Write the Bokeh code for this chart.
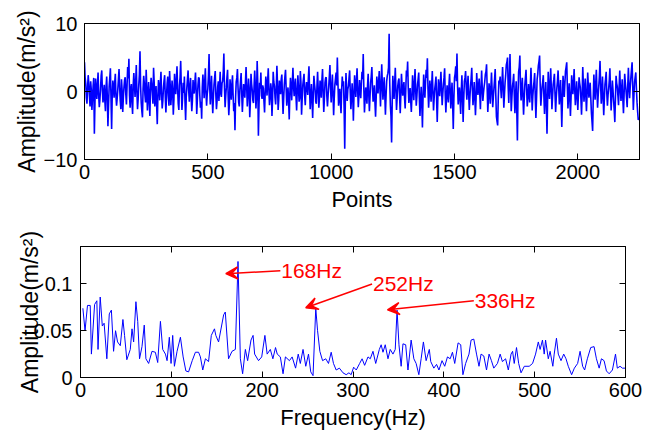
import numpy as np
from bokeh.plotting import figure
from bokeh.models import LinearAxis, FixedTicker, Range1d, Arrow, VeeHead, Label
from bokeh.embed import file_html
from bokeh.resources import INLINE

# ---------------- data ----------------
# time signal, one value every 2.5 points
signal_step = 2.5
signal = [
    4.3, 2.1, 1.2, -0.9, -1.8, 0.6, 2.4, 1.1, -0.6, -2.2, 1.5, 0.3, -2.7, -1.0, 0.8, 2.0, -6.2, -1.5, 1.9, 0.4,
    -1.1, 0.9, 2.8, -0.5, -2.3, -1.2, 0.4, 2.3, 3.1, 0.2, -1.6, -0.3, 1.0, -1.4, -2.9, 0.7, 2.2, -0.8, -5.1, -1.9,
    0.7, 2.0, 3.4, -1.1, -5.5, -0.4, 1.6, 0.5, -0.9, 1.3, 2.6, -0.7, -2.1, -1.0, 0.3, 1.8, 3.3, 0.6, -1.4, -2.6,
    1.8, 0.2, -3.0, -0.9, 0.6, 1.7, 2.1, -0.4, -1.9, 0.8, 3.6, 1.9, 4.8, -0.6, -2.4, 0.5, 1.1, -1.7, -3.3, 0.9,
    2.7, 1.0, -0.8, 1.4, 3.9, -0.2, -2.6, -1.1, 0.9, 2.5, 5.9, 0.8, -1.7, -2.9, -3.8, 0.4, 2.3, 1.2, -0.5, -1.6,
    3.2, 0.7, -2.8, -0.6, 1.4, -1.5, -3.6, 0.3, 2.0, 1.1, -0.2, -1.8, 3.5, 1.4, -2.2, -0.9, 0.8, -2.0, -4.8, -0.7,
    1.7, 0.5, -1.3, 1.1, 2.9, -0.3, -2.5, -1.4, 0.5, 1.6, 2.4, -0.8, -3.1, -0.6, 1.2, 2.2, -0.7, -2.1, 3.0, 0.9,
    -2.0, -0.5, 1.6, 0.2, -3.4, -1.2, 2.6, 1.0, -0.4, 1.7, 3.7, 0.4, -1.8, -2.7, 0.9, 2.1, 4.5, 0.6, -2.7, -1.0,
    1.3, -0.2, 2.2, -1.5, -4.2, -0.8, 0.6, 1.9, 3.1, 0.1, -1.5, 0.8, 2.0, -0.9, -2.9, -1.3, 1.7, 0.5, -0.3, 1.4,
    2.8, 0.3, -3.3, -1.2, 0.9, 2.1, 1.9, -0.6, -2.4, -1.5, -4.0, 0.6, 2.5, 0.8, -1.0, 1.6, 3.4, -0.2, -2.1, -0.4,
    0.4, 2.4, 5.5, 0.9, -1.9, 0.2, 2.3, -0.9, -3.2, -1.0, 1.0, 2.0, 3.0, -0.5, -2.6, -1.3, 0.7, 1.5, -1.4, 0.6,
    2.9, -0.3, -0.8, 1.2, 1.5, 2.8, 5.6, 0.5, -2.3, -0.7, 0.6, 2.1, 3.2, -0.8, -3.5, -1.6, 1.8, 0.4, -1.2, 1.0,
    2.4, -0.6, -2.9, -1.7, -5.7, -0.9, 1.4, 2.0, 3.3, 0.5, -1.6, -2.2, 0.3, 1.5, 2.7, -0.4, -3.0, -0.8, 1.1, 0.2,
    -0.9, 1.4, 3.6, 0.7, -2.2, -0.5, 1.9, 0.4, -3.8, -1.4, 2.6, 1.1, 0.2, -1.3, -1.7, 0.8, 3.1, 0.9, -2.5, -0.7,
    4.5, 1.2, -6.5, -2.0, 1.3, 0.4, 2.8, -0.6, -1.1, 0.9, 0.5, -1.4, -3.1, -0.2, 2.2, 1.0, -0.6, 1.6, 3.4, 0.3,
    -2.0, -0.8, 1.2, 0.3, -3.6, -1.1, 2.9, 1.4, 0.8, -0.9, -1.9, 0.6, 3.8, 1.0, -2.7, -1.2, 1.6, 0.2, -0.4, 1.8,
    2.5, -0.7, -3.3, -1.0, 1.0, 2.2, 3.2, 0.4, -2.1, -0.6, 0.6, -1.5, -4.1, -0.3, 2.0, 0.7, -1.3, 1.2, 3.5, 0.8,
    -0.7, 0.9, 1.9, -0.8, -2.8, 0.1, 2.4, 0.6, -1.5, -0.9, 3.0, 1.3, -3.4, -1.1, 0.9, 1.8, 2.6, -0.5, -2.0, 0.3,
    1.4, 0.6, -0.5, 1.9, 3.7, 0.2, -2.6, -0.8, 1.1, -1.2, -3.9, -0.4, 2.3, 1.1, 0.2, -1.5, -1.8, 0.8, 2.9, 0.4,
    -2.4, -0.9, 1.6, 0.5, -0.9, 1.7, 3.3, 0.1, -3.0, -1.1, 1.3, 2.0, 2.1, -0.7, -2.2, -0.6, 0.7, 2.2, 3.9, 0.6,
    -1.6, 0.4, 2.5, -0.3, -3.5, -1.0, 1.0, 1.9, 2.8, 0.9, 5.0, 1.3, -2.1, -0.8, 0.4, -1.6, -3.2, 0.2, 2.2, 0.8,
    1.5, -2.4, -8.4, -1.3, 2.7, 0.5, -1.4, 0.3, 0.8, 2.0, 3.1, -0.2, -2.6, -0.9, 1.2, -0.7, -4.3, -0.5, 2.4, 1.0,
    -0.8, 1.5, 3.4, 0.2, -2.3, -0.6, 1.7, 0.4, -1.0, 1.1, 2.9, 1.8, 5.5, 0.3, -3.1, -1.2, 0.6, -0.4, -1.8, 0.9,
    2.6, -0.5, -2.9, -0.8, 1.3, 2.2, 3.6, 0.4, -1.5, -0.3, 0.9, -1.6, -3.7, -0.9, 2.2, 0.8, -0.3, 1.5, 3.0, 0.6,
    -2.2, 0.9, 4.0, 1.0, -1.2, 0.5, 2.1, -0.6, -3.4, -0.7, 1.5, 2.3, 2.7, 3.5, 8.5, 1.2, -2.0, -3.6, -7.5, -1.4,
    2.3, 0.6, -1.1, 1.4, 3.5, 0.3, -2.7, -0.9, 0.8, 1.6, 1.9, -0.8, -3.2, -0.4, 2.6, 0.9, -0.6, 0.5, 1.4, -0.9,
    -2.5, 0.3, 3.1, 2.2, 4.4, 0.6, -1.7, -0.5, 0.5, -1.4, -3.0, -0.6, 2.4, 0.8, -1.3, 1.0, 3.3, 0.4, -2.1, -0.7,
    1.0, 1.8, 2.8, -0.9, -3.6, -1.2, 0.7, -1.9, -5.3, -0.8, 2.5, 0.7, -0.9, 1.3, 3.2, 2.0, 4.9, 0.5, -2.4, -0.6,
    1.6, 0.3, -1.5, 0.9, 3.0, 0.1, -2.8, -1.0, 0.4, 1.2, 2.2, -1.3, -4.5, -1.0, 1.8, 0.6, -0.7, 1.1, 2.9, 0.3,
    -2.0, -0.4, 1.1, 2.0, 3.4, -0.6, -3.1, -0.8, 0.9, -0.5, -1.6, 0.9, 2.6, 0.2, -2.5, -0.6, 1.3, -1.8, -5.5, -1.1,
    2.0, 2.6, 3.7, 1.5, 5.6, 0.7, -1.9, -0.4, 0.6, -1.2, -3.3, 0.1, 2.4, -0.9, -4.5, -1.1, 1.5, 2.0, 3.0, 0.6,
    -1.2, 0.7, 2.3, -0.4, -2.7, -0.8, 0.8, 1.9, 3.5, 0.2, -2.0, -0.5, 1.4, -0.9, -3.5, -1.0, 2.7, 0.9, -0.5, 0.8,
    1.9, -0.4, -2.6, 0.3, 3.1, 0.6, -1.4, -0.2, 0.7, 1.4, 2.5, 2.9, 4.0, 0.4, -3.0, -1.1, 1.2, 0.3, -1.8, 0.5,
    2.8, 0.2, -2.3, -0.8, 0.5, 1.8, 3.3, -0.6, -3.7, -4.4, -5.0, -0.9, 1.6, 1.2, 2.2, 0.4, -1.0, 1.3, 3.6, 0.8,
    -2.4, -0.5, 1.3, 2.4, 3.9, 4.3, 5.0, 0.8, -1.7, 1.6, 5.5, 0.9, -2.9, -1.0, 0.8, 1.5, 2.6, -0.7, -3.2, -0.6,
    1.5, -2.8, -7.2, -0.4, 2.9, 3.6, 5.3, 0.6, -1.3, 0.5, 2.0, -0.8, -3.4, -1.2, 0.9, 2.0, 3.2, 0.3, -2.2, -0.9,
    1.1, -0.3, -1.6, 0.9, 3.5, 0.4, -2.8, -0.7, 0.6, 1.5, 2.7, -0.9, -3.9, -1.1, 1.8, 2.6, 3.8, 4.4, 5.3, 0.8,
    -2.1, -0.6, 0.7, 1.4, 2.4, -0.8, -3.3, -0.5, 1.4, -1.9, -6.2, -1.2, 2.9, 0.7, -1.1, 0.9, 3.4, 0.5, -2.6, -0.8,
    1.0, 1.7, 2.6, -0.4, -3.0, -0.9, 0.5, 1.6, 3.1, 0.6, -1.9, -0.2, 1.7, -1.6, -5.2, -1.3, 2.3, 0.8, -0.8, 1.2,
    3.0, 3.6, 4.3, 0.7, -2.5, -0.6, 1.2, -1.0, -3.6, -0.9, 2.4, 0.9, -0.4, 1.3, 3.3, 0.2, -2.0, -0.5, 1.5, -0.6,
    -2.7, -0.3, 2.1, 1.2, 0.6, -1.1, -3.4, -0.5, 3.6, 1.0, -1.5, 0.2, 1.9, -0.7, -2.9, -0.4, 2.8, 0.9, -0.9, 0.4,
    1.3, -0.9, -3.1, -4.4, -5.8, -1.0, 2.5, 0.6, -1.2, 1.1, 3.2, 0.2, -2.4, -0.6, 0.8, 2.3, 4.5, 0.9, -1.8, -0.4,
    2.2, -0.8, -3.5, -1.1, 1.0, 1.9, 2.9, -0.3, -2.1, -0.5, 0.4, 1.6, 3.4, 0.3, -2.8, -0.7, 1.6, 0.2, -1.3, -2.7,
    -4.5, -0.9, 2.3, 1.2, 0.7, -0.6, -2.0, 0.8, 3.1, 0.4, -1.4, 0.3, 1.8, -1.1, -3.2, -0.5, 2.6, 1.3, 0.3, -1.0,
    -2.3, 0.9, 3.5, 0.6, -1.0, 0.7, 2.0, 3.2, 4.3, 0.8, -2.7, -0.6, 1.4, 2.1, 2.8, 0.4, -1.6, -3.0, -4.2, -3.8,
]
points = [i * signal_step for i in range(len(signal))]

freq = [
    2.6, 5, 7.7, 10.7, 12, 15.5, 18, 19.3, 21.7, 24, 26, 29, 31.7, 34, 36.4, 38.6,
    40.8, 43.8, 46.7, 48.5, 51, 54.8, 56.7, 58.5, 61, 63, 65, 67.7, 70.2, 72, 75,
    78.7, 82.4, 85, 88, 90.5, 93.5, 95.3, 97.8, 99.7, 101.5, 103.4, 106.3, 110,
    113, 116, 119, 123, 126.5, 130, 132, 134.6, 137.5, 141, 144, 147.5, 149, 152,
    157.6, 159.4, 163, 166.8, 170.5, 173.4, 176, 178.5, 181.5, 184, 187.7, 190,
    191.7, 196, 199.5, 203, 205.5, 209, 211.8, 214.7, 216.6, 220, 223, 225.6, 230,
    233, 236.8, 239.7, 242, 245, 248, 251, 253.5, 256, 259, 261, 263.5, 266.5,
    270, 273, 276, 278.5, 281.5, 285, 289, 292.5, 295.5, 298, 300.7, 303.6, 307.3,
    310, 312.8, 316.5, 319, 322, 325, 329, 331, 333, 335.5, 338.5, 341, 344,
    346.5, 348.5, 350.6, 353, 355, 358, 360.5, 364, 367, 369.5, 372.5, 375, 377.5,
    380.5, 384, 385.6, 389, 392, 394.6, 398, 401, 404, 407, 409.5, 412, 415.7,
    418.6, 421, 424, 427.7, 430, 433, 436, 438.7, 441, 444, 447, 449.8, 452.4,
    455, 459, 462, 464.5, 468, 471, 474, 475.7, 477.5, 480, 482.4, 485, 488.6,
    494, 497.7, 501, 504, 506, 508.6, 510.5, 512, 515, 517, 520, 521.5, 524, 526,
    529, 532, 534.5, 537, 540.7, 543.7, 547.3, 550, 552.8, 555, 558, 561.7, 565.4,
    568, 571, 573.5, 576.4, 579, 582, 585.6, 589, 591, 594, 596.6, 600,
]
amp = [
    0.074, 0.050, 0.077, 0.077, 0.025, 0.078, 0.082, 0.030, 0.086, 0.055, 0.058, 0.020, 0.068, 0.072, 0.028, 0.050,
    0.038, 0.034, 0.062, 0.045, 0.019, 0.030, 0.052, 0.038, 0.081, 0.060, 0.020, 0.033, 0.056, 0.020, 0.015,
    0.028, 0.027, 0.016, 0.060, 0.030, 0.025, 0.018, 0.043, 0.015, 0.045, 0.012, 0.028, 0.043,
    0.022, 0.007, 0.006, 0.018, 0.027, 0.027, 0.022, 0.008, 0.020, 0.017, 0.045, 0.052, 0.045, 0.038,
    0.067, 0.070, 0.020, 0.028, 0.030, 0.124, 0.020, 0.004, 0.030, 0.018, 0.040, 0.045,
    0.025, 0.018, 0.022, 0.045, 0.025, 0.030, 0.020, 0.032, 0.025, 0.022, 0.004, 0.022, 0.018,
    0.022, 0.010, 0.025, 0.015, 0.030, 0.012, 0.025, 0.006, 0.002, 0.074, 0.050, 0.028, 0.018,
    0.020, 0.015, 0.027, 0.015, 0.008, 0.010, 0.005, 0.003, 0.005, 0.003, 0.011, 0.008, 0.015,
    0.020, 0.013, 0.022, 0.020, 0.028, 0.015, 0.030, 0.035, 0.027, 0.035, 0.020, 0.030, 0.025,
    0.030, 0.072, 0.035, 0.012, 0.036, 0.035, 0.008, 0.040, 0.020, 0.015, 0.003, 0.020, 0.038,
    0.018, 0.030, 0.017, 0.010, 0.014, 0.008, 0.018, 0.012, 0.022, 0.020, 0.027, 0.015, 0.037,
    0.035, 0.003, 0.015, 0.025, 0.040, 0.041, 0.025, 0.012, 0.025, 0.023, 0.008, 0.025, 0.018,
    0.010, 0.015, 0.025, 0.017, 0.020, 0.008, 0.025, 0.028, 0.015, 0.032, 0.015, 0.005, 0.012,
    0.012, 0.015, 0.025, 0.038, 0.030, 0.040, 0.025, 0.040, 0.020, 0.028, 0.012, 0.025, 0.042, 0.025,
    0.018, 0.025, 0.020, 0.012, 0.003, 0.010, 0.015, 0.028, 0.012, 0.008, 0.020, 0.032, 0.033,
    0.020, 0.010, 0.020, 0.018, 0.007, 0.004, 0.008, 0.025, 0.010, 0.012, 0.010, 0.010,
]

top_xticks = [0, 500, 1000, 1500, 2000]
top_yticks = [-10, 0, 10]
bot_xticks = [0, 100, 200, 300, 400, 500, 600]
bot_yticks = [0, 0.05, 0.1]
bot_ylabels = {0: "0", 0.05: "0.05", 0.1: "0.1"}

# annotations: label text, arrow tail (x, y), arrow head (x, y)
ann_text = ["168Hz", "252Hz", "336Hz"]
ann_tail_x = [220, 321, 433]
ann_tail_y = [0.114, 0.100, 0.082]
ann_head_x = [160, 248, 338]
ann_head_y = [0.111, 0.0745, 0.0723]

FONT = "Liberation Sans"
BLUE = "#0000FF"
RED = "#FF0000"


def style(p, xticks, yticks):
    p.background_fill_color = "white"
    p.border_fill_color = "white"
    p.outline_line_color = "black"
    p.outline_line_width = 1
    p.xgrid.visible = False
    p.ygrid.visible = False
    for ax in p.axis:
        ax.major_tick_in = 6
        ax.major_tick_out = 0
        ax.minor_tick_line_color = None
        ax.axis_line_color = "black"
        ax.major_tick_line_color = "black"
        ax.major_label_text_font = FONT
        ax.major_label_text_font_size = "20px"
        ax.major_label_text_color = "black"
        ax.axis_label_text_font = FONT
        ax.axis_label_text_font_size = "22px"
        ax.axis_label_text_font_style = "normal"
        ax.axis_label_text_color = "black"
    p.xaxis.ticker = FixedTicker(ticks=xticks)
    p.yaxis.ticker = FixedTicker(ticks=yticks)
    for ticks, side in ((xticks, "above"), (yticks, "right")):
        ax = LinearAxis(ticker=FixedTicker(ticks=ticks), major_tick_in=6, major_tick_out=0,
                        minor_tick_line_color=None, major_label_text_font_size="1px",
                        major_label_text_color=None, major_label_standoff=0,
                        axis_line_color="black")
        p.add_layout(ax, side)


# ---------------- top: time signal ----------------
p1 = figure(width=643, height=225, output_backend="svg", toolbar_location=None,
            x_range=Range1d(0, 2250), y_range=Range1d(-10, 10),
            min_border_left=84, min_border_right=4, min_border_top=23, min_border_bottom=66)
p1.line(points, signal, line_color=BLUE, line_width=1.6)
p1.xaxis.axis_label = "Points"
p1.yaxis.axis_label = "Amplitude(m/s²)"
style(p1, top_xticks, top_yticks)
p1.yaxis[0].axis_label_text_font_size = "23px"
p1.yaxis[0].major_label_standoff = 7
p1.xaxis[0].major_label_standoff = 9
p1.yaxis[0].axis_label_standoff = 1
p1.xaxis[0].axis_label_standoff = 7

# ---------------- bottom: spectrum ----------------
p2 = figure(width=643, height=208, output_backend="svg", toolbar_location=None,
            x_range=Range1d(0, 600), y_range=Range1d(0, 0.14),
            min_border_left=80, min_border_right=18, min_border_top=21, min_border_bottom=56)
p2.line(freq, amp, line_color=BLUE, line_width=1)
p2.xaxis.axis_label = "Frequency(Hz)"
p2.yaxis.axis_label = "Amplitude(m/s²)"
style(p2, bot_xticks, bot_yticks)
p2.yaxis[0].axis_label_text_font_size = "23px"
p2.yaxis[0].major_label_overrides = bot_ylabels
p2.yaxis[0].major_label_standoff = 8
p2.xaxis[0].major_label_standoff = 9
p2.yaxis[0].axis_label_standoff = -12
p2.xaxis[0].axis_label_standoff = 0

for t, tx, ty, hx, hy in zip(ann_text, ann_tail_x, ann_tail_y, ann_head_x, ann_head_y):
    p2.add_layout(Arrow(end=VeeHead(size=12, fill_color=RED, line_color=RED, line_width=1.5),
                        x_start=tx, y_start=ty, x_end=hx, y_end=hy,
                        line_color=RED, line_width=1.5))
    p2.add_layout(Label(x=tx + 1, y=ty, text=t, text_color=RED, text_font=FONT,
                        text_font_size="21px", text_baseline="middle", text_align="left"))

# two separate roots stacked vertically (keeps each plot's own frame position)
open("out.html", "w").write(file_html([p1, p2], INLINE))
